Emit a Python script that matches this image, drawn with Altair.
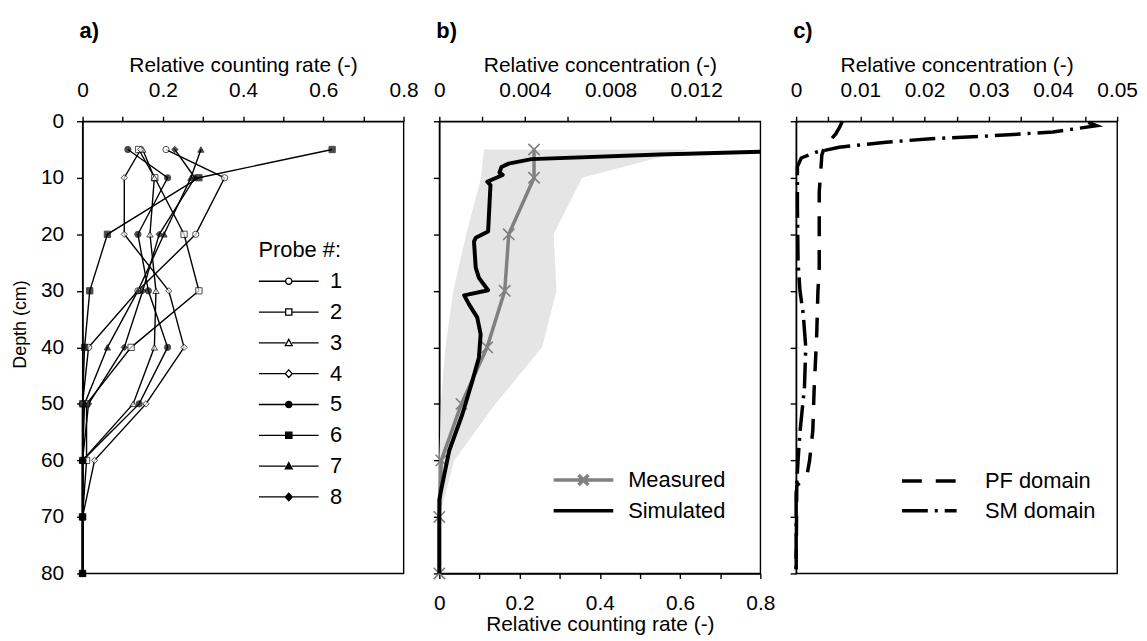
import altair as alt
import pandas as pd

FONT = "Liberation Sans"

# ---------------- data ----------------
depths = [5, 10, 20, 30, 40, 50, 60, 70, 80]
probe_ids = ["1", "2", "3", "4", "5", "6", "7", "8"]
probe_1 = [0.208, 0.354, 0.282, 0.138, 0.015, 0.0, 0.0, 0.0, 0.0]
probe_2 = [0.140, 0.180, 0.253, 0.290, 0.121, 0.010, 0.010, 0.0, 0.0]
probe_3 = [0.150, 0.179, 0.168, 0.183, 0.179, 0.126, 0.0, 0.0, 0.0]
probe_4 = [0.145, 0.104, 0.104, 0.215, 0.253, 0.158, 0.030, 0.0, 0.0]
probe_5 = [0.113, 0.212, 0.138, 0.164, 0.212, 0.141, 0.0, 0.0, 0.0]
probe_6 = [0.622, 0.290, 0.062, 0.018, 0.005, 0.0, 0.0, 0.0, 0.0]
probe_7 = [0.295, 0.270, 0.203, 0.138, 0.062, 0.005, 0.0, 0.0, 0.0]
probe_8 = [0.230, 0.280, 0.191, 0.150, 0.104, 0.015, 0.0, 0.0, 0.0]
probe_rates = [probe_1, probe_2, probe_3, probe_4, probe_5, probe_6, probe_7, probe_8]

measured_rate = [0.236, 0.236, 0.173, 0.163, 0.119, 0.055, 0.005, 0.0, 0.0]
envelope_low = [0.111, 0.104, 0.067, 0.035, 0.015, 0.004, 0.0, 0.0, 0.0]
envelope_high = [0.622, 0.356, 0.285, 0.292, 0.256, 0.140, 0.037, 0.0, 0.0]

sim_depth = [5.4, 5.9, 6.7, 7.5, 8.1, 9.1, 9.5, 10.7, 11.3, 14.2, 19.5, 20.6, 21.3,
             25.9, 27.7, 29.9, 30.8, 32.4, 34.7, 37.7, 41.8, 46.0, 51.8, 58.3, 65.3, 67.0, 80.0]
sim_conc = [0.0150, 0.0103, 0.00431, 0.00324, 0.00290, 0.00281, 0.00296, 0.00224, 0.00239,
            0.00235, 0.00228, 0.00170, 0.00162, 0.00170, 0.00185, 0.00228, 0.00116, 0.00139,
            0.00177, 0.00193, 0.00185, 0.00154, 0.00108, 0.00046, 0.00008, 0.0, 0.0]

pf_depth = [0.0, 1.0, 2.2, 3.5, 4.6, 6.0, 7.8, 12.5, 26.0, 30.0, 38.0, 47.6, 54.7, 60.0, 62.6, 64.5, 80.0]
pf_conc = [0.0072, 0.0068, 0.0062, 0.0052, 0.0044, 0.0040, 0.0039, 0.0036, 0.0036, 0.0034,
           0.0032, 0.0028, 0.0026, 0.0021, 0.0017, 0.0001, 0.0]
sm_depth = [0.2, 0.8, 1.9, 2.6, 3.1, 3.7, 4.6, 5.5, 6.5, 8.0, 15.0, 25.0, 30.0, 34.0, 40.0,
            47.0, 55.0, 60.0, 66.0, 80.0]
sm_conc = [0.0455, 0.0468, 0.0400, 0.0300, 0.0210, 0.0140, 0.0067, 0.0030, 0.0008, 0.0002,
           0.0002, 0.0003, 0.0006, 0.0011, 0.0015, 0.0013, 0.0006, 0.0003, 0.0, 0.0]

# ---------------- helpers ----------------
W, H = 323, 455
LAB = 21      # tick label size
TIT = 21      # x axis title size
LEG = 22      # legend text size


def y_enc(show_labels):
    ax = dict(values=list(range(0, 81, 10)), labels=show_labels, labelFlush=False,
              labelOverlap=False, tickSize=6, labelPadding=13, titlePadding=11,
              titleFontSize=18, titleY=204)
    ax["title"] = "Depth (cm)" if show_labels else None
    return alt.Y("depth:Q", scale=alt.Scale(domain=[0, 80], reverse=True, nice=False, zero=False),
                 axis=alt.Axis(**ax))


def x_axis(values, expr, title, orient):
    return alt.Axis(values=values, labelExpr=expr, title=title, orient=orient,
                    labelFlush=False, labelOverlap=False, tickSize=5,
                    labelPadding=16 if orient == "top" else 14,
                    titlePadding=4 if orient == "top" else 0)


rate_ticks = [0, 0.1, 0.2, 0.3, 0.4, 0.5, 0.6, 0.7, 0.8]
rate_expr = "round(datum.value*10) % 2 == 0 ? format(datum.value, '~g') : ''"
conc_b_ticks = [0, 0.002, 0.004, 0.006, 0.008, 0.010, 0.012, 0.014]
conc_b_expr = "round(datum.value*1000) % 4 == 0 ? format(datum.value, '~g') : ''"
conc_c_ticks = [0, 0.005, 0.01, 0.015, 0.02, 0.025, 0.03, 0.035, 0.04, 0.045, 0.05]
conc_c_expr = "round(datum.value*1000) % 10 == 0 ? format(datum.value, '~g') : ''"


def panel_title(t):
    return alt.TitleParams(text=t, anchor="start", frame="group", fontSize=22,
                           fontWeight="bold", offset=12, dx=-3, color="black")


# ---------------- panel a ----------------
rows = []
for pid, vals in zip(probe_ids, probe_rates):
    for d, v in zip(depths, vals):
        rows.append({"probe": pid, "depth": d, "rate": v})
df_a = pd.DataFrame(rows)

xa = alt.X("rate:Q", scale=alt.Scale(domain=[0, 0.8], nice=False, zero=False),
           axis=x_axis(rate_ticks, rate_expr, "Relative counting rate (-)", "top"))

marker_shapes = ["circle", "square", "triangle-up", "diamond"] * 2
marker_fills = ["white"] * 4 + ["black"] * 4
seg = "M-9.5,0L-1,0M1,0L9.5,0"
legend_paths = [
    seg + "M1,0A1,1 0 1,1 -1,0A1,1 0 1,1 1,0Z",
    seg + "M-1,-1L1,-1L1,1L-1,1Z",
    seg + "M0,-1.1L1.1,0.9L-1.1,0.9Z",
    seg + "M0,-1.2L1.1,0L0,1.2L-1.1,0Z",
]
legend_paths = legend_paths * 2

# legend positions are relative to the first panel's plot origin
legend_a = alt.Legend(title="Probe #:", orient="none", legendX=177, legendY=120,
                      titleFontSize=LEG, titleFontWeight="normal", labelFontSize=LEG,
                      symbolSize=40, symbolStrokeWidth=1.3,
                      symbolOpacity=1, symbolOffset=19.5, labelOffset=30.5, rowPadding=9,
                      titlePadding=8, padding=0)

base_a = alt.Chart(df_a)
lines_a = base_a.mark_line(color="black", strokeWidth=1.4).encode(
    x=xa, y=y_enc(True), detail="probe:N", order="depth:Q")
pts_a = base_a.mark_point(filled=True, size=40, stroke="black", strokeWidth=1).encode(
    x=xa, y=y_enc(True),
    shape=alt.Shape("probe:N", scale=alt.Scale(domain=probe_ids, range=marker_shapes), legend=None),
    fill=alt.Fill("probe:N", scale=alt.Scale(domain=probe_ids, range=marker_fills), legend=None))
leg_a = base_a.mark_point(filled=True, opacity=0, strokeWidth=1.3).encode(
    x=xa, y=y_enc(True),
    shape=alt.Shape("probe:N", scale=alt.Scale(domain=probe_ids, range=legend_paths), legend=legend_a),
    fill=alt.Fill("probe:N", scale=alt.Scale(domain=probe_ids, range=marker_fills), legend=legend_a),
    stroke=alt.Stroke("probe:N", scale=alt.Scale(domain=probe_ids, range=["black"] * 8),
                      legend=legend_a))
panel_a = alt.layer(lines_a, pts_a, leg_a).resolve_scale(
    shape="independent", fill="independent", stroke="independent").properties(
    width=W, height=H, title=panel_title("a)"))

# ---------------- panel b ----------------
df_b = pd.DataFrame({"depth": depths, "rate": measured_rate, "lo": envelope_low,
                     "hi": envelope_high, "series": ["Measured"] * len(depths)})
df_sim = pd.DataFrame({"depth": sim_depth, "conc": sim_conc})

rate_scale = alt.Scale(domain=[0, 0.8], nice=False, zero=False)
axis_b_bottom = x_axis(rate_ticks, rate_expr, "Relative counting rate (-)", "bottom")
series_names = ["Measured", "Simulated"]
legend_b = alt.Legend(title=None, orient="none", legendX=493, legendY=350, labelFontSize=LEG,
                      symbolSize=100, symbolStrokeWidth=3.5, symbolOpacity=1,
                      symbolOffset=0, labelOffset=34, rowPadding=8, padding=0)

base_b = alt.Chart(df_b)
area_b = base_b.mark_area(orient="horizontal", color="#e5e5e5").encode(
    x=alt.X("lo:Q", scale=rate_scale, axis=axis_b_bottom), x2="hi:Q", y=y_enc(False))
mline_b = base_b.mark_line(color="#808080", strokeWidth=3.5).encode(
    x=alt.X("rate:Q", scale=rate_scale, axis=axis_b_bottom), y=y_enc(False), order="depth:Q")
mpts_b = base_b.mark_point(shape="M-1,-1L1,1M-1,1L1,-1", size=130, stroke="#808080",
                           strokeWidth=1.6, filled=False, opacity=1).encode(
    x=alt.X("rate:Q", scale=rate_scale, axis=axis_b_bottom), y=y_enc(False))
leg_b = base_b.mark_point(opacity=0).encode(
    x=alt.X("rate:Q", scale=rate_scale, axis=axis_b_bottom), y=y_enc(False),
    shape=alt.Shape("series:N", scale=alt.Scale(domain=series_names,
                    range=["M-6,0L6,0M-1,-1L1,1M-1,1L1,-1", "M-6,0L6,0"]), legend=legend_b),
    stroke=alt.Stroke("series:N", scale=alt.Scale(domain=series_names, range=["#808080", "black"]),
                      legend=legend_b))
bottom_b = alt.layer(area_b, mline_b, mpts_b, leg_b)
sim_b = alt.Chart(df_sim).mark_line(color="black", strokeWidth=4, strokeJoin="round").encode(
    x=alt.X("conc:Q", scale=alt.Scale(domain=[0, 0.015], nice=False, zero=False),
            axis=x_axis(conc_b_ticks, conc_b_expr, "Relative concentration (-)", "top")),
    y=y_enc(False), order="depth:Q")
panel_b = alt.layer(bottom_b, sim_b).resolve_scale(x="independent").properties(
    width=W, height=H, title=panel_title("b)"))

# ---------------- panel c ----------------
df_c = pd.concat([
    pd.DataFrame({"domain": "PF domain", "depth": pf_depth, "conc": pf_conc}),
    pd.DataFrame({"domain": "SM domain", "depth": sm_depth, "conc": sm_conc}),
])
legend_c = alt.Legend(title=None, orient="none", legendX=841, legendY=351, labelFontSize=LEG,
                      symbolType="M-5.5,0L5.5,0", symbolSize=100, symbolStrokeWidth=3.5,
                      symbolStrokeColor="black", symbolOffset=0, labelOffset=45,
                      rowPadding=8, padding=0)
panel_c = alt.Chart(df_c).mark_line(color="black", strokeWidth=3.5).encode(
    x=alt.X("conc:Q", scale=alt.Scale(domain=[0, 0.05], nice=False, zero=False),
            axis=x_axis(conc_c_ticks, conc_c_expr, "Relative concentration (-)", "top")),
    y=y_enc(False),
    strokeDash=alt.StrokeDash("domain:N", scale=alt.Scale(domain=["PF domain", "SM domain"],
                              range=[[20, 14], [26, 7, 3, 7]]), legend=legend_c),
    order="depth:Q",
).properties(width=W, height=H, title=panel_title("c)"))

chart = alt.hconcat(panel_a, panel_b, panel_c, spacing=36, bounds="flush").properties(
    padding={"left": 2, "top": 9, "right": 0, "bottom": 0}
).configure(font=FONT).configure_view(stroke="black", strokeWidth=1.4).configure_axis(
    domainColor="black", domainWidth=1.4, tickColor="black", tickWidth=1.4,
    labelColor="black", titleColor="black", labelFontSize=LAB, titleFontSize=TIT,
    titleFontWeight="normal", grid=False, labelFont=FONT, titleFont=FONT
).configure_legend(labelFont=FONT, titleFont=FONT, labelColor="black", titleColor="black")

chart.save("out.html", embed_options={"renderer": "svg", "actions": False})
